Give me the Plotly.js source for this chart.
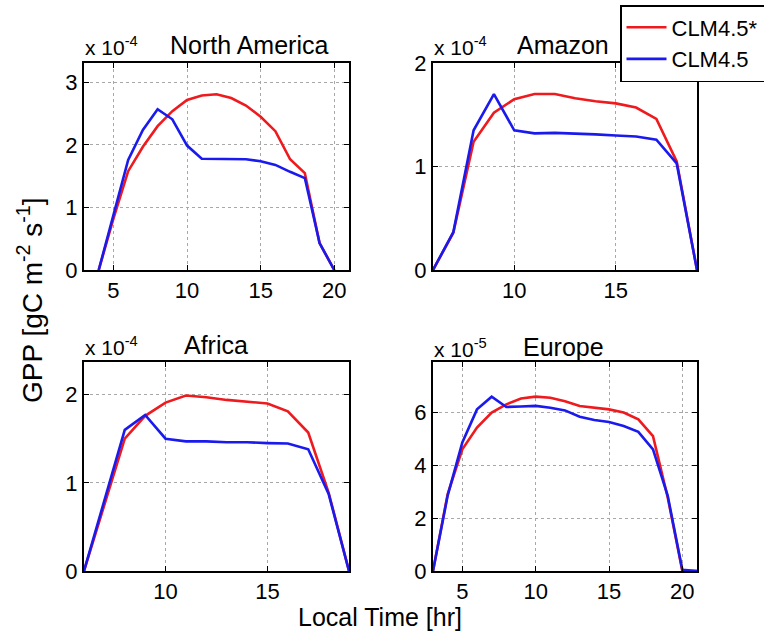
<!DOCTYPE html>
<html>
<head>
<meta charset="utf-8">
<script src="https://cdn.plot.ly/plotly-3.0.1.min.js"></script>
<style>html,body{margin:0;padding:0;background:#fff;}#chart{width:764px;height:632px;}</style>
</head>
<body>
<div id="chart"></div>
<script>
// Hours (local time)
const hoursNA = [4,5,6,7,8,9,10,11,12,13,14,15,16,17,18,19,20];
const hoursAmazon = [6,7,8,9,10,11,12,13,14,15,16,17,18,19];
const hoursAfrica = [6,7,8,9,10,11,12,13,14,15,16,17,18,19];
const hoursEurope = [3,4,5,6,7,8,9,10,11,12,13,14,15,16,17,18,19,20,21];

// GPP values (North America, Amazon, Africa in units of 1e-4; Europe in 1e-5)
const naStar = [0,0.82,1.58,1.97,2.30,2.54,2.72,2.79,2.81,2.75,2.63,2.45,2.22,1.77,1.55,0.43,0];
const naBase = [0,0.88,1.76,2.24,2.57,2.41,1.99,1.78,1.78,1.78,1.77,1.74,1.68,1.57,1.47,0.43,0];
const amStar = [0,0.36,1.24,1.52,1.65,1.70,1.70,1.66,1.63,1.61,1.57,1.46,1.05,0];
const amBase = [0,0.365,1.35,1.70,1.35,1.32,1.325,1.32,1.31,1.30,1.29,1.26,1.03,0];
const afStar = [0,0.76,1.50,1.76,1.91,1.99,1.97,1.94,1.92,1.90,1.81,1.57,0.89,0];
const afBase = [0,0.80,1.60,1.77,1.50,1.47,1.47,1.46,1.46,1.45,1.445,1.38,0.875,0];
const euStar = [0,2.91,4.60,5.42,5.99,6.30,6.52,6.59,6.55,6.42,6.24,6.17,6.11,5.99,5.73,5.10,2.79,0,0];
const euBase = [0,2.85,4.86,6.11,6.59,6.20,6.22,6.24,6.17,6.07,5.83,5.71,5.63,5.48,5.26,4.60,2.85,0.05,0];

const seriesNames = ['CLM4.5*','CLM4.5'];
const panelTitles = ['North America','Amazon','Africa','Europe'];
const panelExponents = ['-4','-4','-4','-5'];
const xTicksNA = [5,10,15,20];
const xTicksAm = [10,15];
const xTicksAf = [10,15];
const xTicksEu = [5,10,15,20];
const yTicksNA = [0,1,2,3];
const yTicksAm = [0,1,2];
const yTicksAf = [0,1,2];
const yTicksEu = [0,2,4,6];

const RED = '#ee1a1e';
const BLUE = '#1a1aee';
const FONT = 'Liberation Sans, Arial, Helvetica, sans-serif';

function tr(x, y, color, name, ax, show) {
  return {x: x, y: y, type: 'scatter', mode: 'lines', name: name, legendgroup: name,
    showlegend: show, xaxis: 'x' + ax, yaxis: 'y' + ax,
    line: {color: color, width: 2.6}, hoverinfo: 'x+y'};
}

const data = [
  tr(hoursNA, naStar, RED, seriesNames[0], '', true),
  tr(hoursNA, naBase, BLUE, seriesNames[1], '', true),
  tr(hoursAmazon, amStar, RED, seriesNames[0], '2', false),
  tr(hoursAmazon, amBase, BLUE, seriesNames[1], '2', false),
  tr(hoursAfrica, afStar, RED, seriesNames[0], '3', false),
  tr(hoursAfrica, afBase, BLUE, seriesNames[1], '3', false),
  tr(hoursEurope, euStar, RED, seriesNames[0], '4', false),
  tr(hoursEurope, euBase, BLUE, seriesNames[1], '4', false)
];

function ax(domain, range, ticks, anchor) {
  return {domain: domain, range: range, tickvals: ticks, ticktext: ticks.map(String),
    anchor: anchor, showline: true, linecolor: '#000', linewidth: 2, mirror: 'ticks',
    ticks: 'inside', ticklen: 5, tickwidth: 1, tickcolor: '#000',
    showgrid: true, gridcolor: '#a8a8a8', griddash: 'dot', gridwidth: 1,
    zeroline: false, tickfont: {family: FONT, size: 22, color: '#000'}, fixedrange: true};
}

const W = 764, H = 632;
const px = v => v / W, py = v => 1 - v / H;

const layout = {
  width: W, height: H,
  margin: {l: 0, r: 0, t: 0, b: 0, autoexpand: false},
  paper_bgcolor: '#fff', plot_bgcolor: '#fff',
  font: {family: FONT, color: '#000'},
  xaxis: ax([px(84), px(349)], [3, 21], xTicksNA, 'y'),
  yaxis: ax([py(270), py(63)], [0, 3.31], yTicksNA, 'x'),
  xaxis2: ax([px(433), px(697)], [6, 19], xTicksAm, 'y2'),
  yaxis2: ax([py(270), py(63)], [0, 2], yTicksAm, 'x2'),
  xaxis3: ax([px(84), px(349)], [6, 19], xTicksAf, 'y3'),
  yaxis3: ax([py(571), py(362)], [0, 2.37], yTicksAf, 'x3'),
  xaxis4: ax([px(433), px(697)], [3, 21], xTicksEu, 'y4'),
  yaxis4: ax([py(571), py(362)], [0, 7.9], yTicksEu, 'x4'),
  showlegend: true,
  legend: {x: px(620), y: py(5), xanchor: 'left', yanchor: 'top',
    bgcolor: '#fff', bordercolor: '#000', borderwidth: 1.5,
    font: {family: FONT, size: 22, color: '#000'}, itemwidth: 40,
    tracegroupgap: 0, traceorder: 'normal'},
  annotations: [
    {text: 'x 10<sup>' + panelExponents[0] + '</sup>', x: px(83), y: py(46), xref: 'paper', yref: 'paper', xanchor: 'left', yanchor: 'middle', showarrow: false, font: {family: FONT, size: 21}},
    {text: panelTitles[0], x: px(249), y: py(45), xref: 'paper', yref: 'paper', xanchor: 'center', yanchor: 'middle', showarrow: false, font: {family: FONT, size: 25}},
    {text: 'x 10<sup>' + panelExponents[1] + '</sup>', x: px(432), y: py(46), xref: 'paper', yref: 'paper', xanchor: 'left', yanchor: 'middle', showarrow: false, font: {family: FONT, size: 21}},
    {text: panelTitles[1], x: px(563), y: py(45), xref: 'paper', yref: 'paper', xanchor: 'center', yanchor: 'middle', showarrow: false, font: {family: FONT, size: 25}},
    {text: 'x 10<sup>' + panelExponents[2] + '</sup>', x: px(83), y: py(346), xref: 'paper', yref: 'paper', xanchor: 'left', yanchor: 'middle', showarrow: false, font: {family: FONT, size: 21}},
    {text: panelTitles[2], x: px(216), y: py(345), xref: 'paper', yref: 'paper', xanchor: 'center', yanchor: 'middle', showarrow: false, font: {family: FONT, size: 25}},
    {text: 'x 10<sup>' + panelExponents[3] + '</sup>', x: px(432), y: py(348), xref: 'paper', yref: 'paper', xanchor: 'left', yanchor: 'middle', showarrow: false, font: {family: FONT, size: 21}},
    {text: panelTitles[3], x: px(563), y: py(347), xref: 'paper', yref: 'paper', xanchor: 'center', yanchor: 'middle', showarrow: false, font: {family: FONT, size: 25}},
    {text: 'Local Time [hr]', x: px(380), y: py(617), xref: 'paper', yref: 'paper', xanchor: 'center', yanchor: 'middle', showarrow: false, font: {family: FONT, size: 25}},
    {text: 'GPP [gC m<sup>-2</sup> s<sup>-1</sup>]', x: px(30), y: py(300), xref: 'paper', yref: 'paper', xanchor: 'center', yanchor: 'middle', textangle: -90, showarrow: false, font: {family: FONT, size: 28}}
  ]
};

Plotly.newPlot('chart', data, layout, {displayModeBar: false, staticPlot: true});
</script>
</body>
</html>
